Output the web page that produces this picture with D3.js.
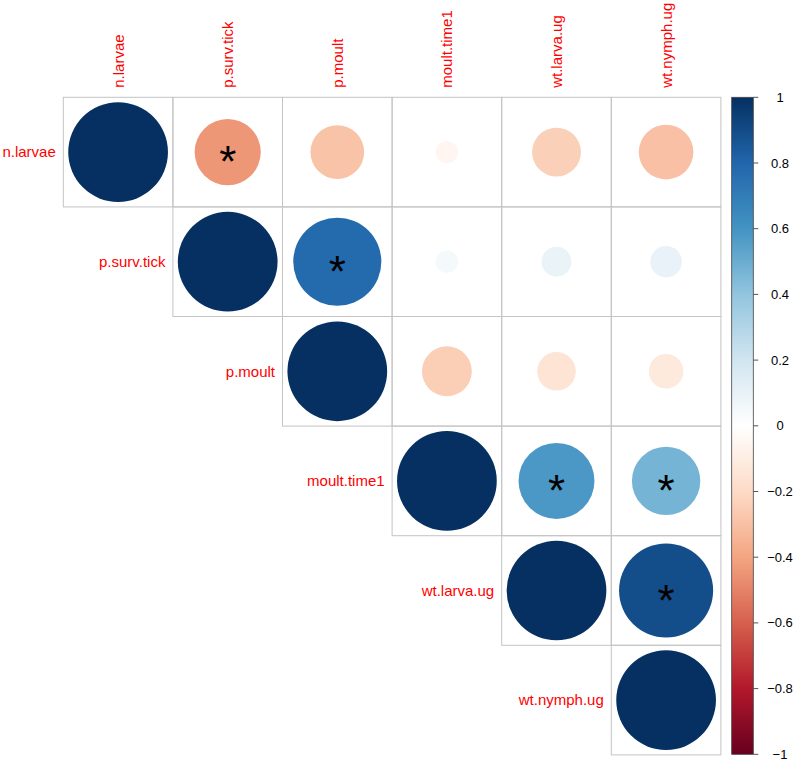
<!DOCTYPE html>
<html>
<head>
<meta charset="utf-8">
<script src="https://cdn.jsdelivr.net/npm/d3@7"></script>
<style>
  html, body { margin: 0; padding: 0; background: #fff; }
  svg { display: block; font-family: "Liberation Sans", Arial, Helvetica, sans-serif; }
</style>
</head>
<body>
<svg id="chart" width="794" height="766"></svg>
<script>
const variables = ["n.larvae", "p.surv.tick", "p.moult", "moult.time1", "wt.larva.ug", "wt.nymph.ug"];
// upper triangle correlations, row by row (row i, columns i..5)
const corrRows = [
  [1, -0.44, -0.29, -0.05, -0.24, -0.30],
  [1, 0.78, 0.05, 0.09, 0.10],
  [1, -0.25, -0.15, -0.12],
  [1, 0.58, 0.47],
  [1, 0.89],
  [1]
];
// significant pairs marked with "*": [row, col]
const significant = [[0, 1], [1, 2], [3, 4], [3, 5], [4, 5]];
const legendTicks = [1, 0.8, 0.6, 0.4, 0.2, 0, -0.2, -0.4, -0.6, -0.8, -1];
const paletteStops = ["#67001F", "#B2182B", "#D6604D", "#F4A582", "#FDDBC7", "#FFFFFF",
                      "#D1E5F0", "#92C5DE", "#4393C3", "#2166AC", "#053061"];

const svg = d3.select("#chart");
const n = variables.length;
const gLeft = 63.3, gTop = 97.3, cell = 109.6;

const x = d3.scaleBand().domain(variables).range([gLeft, gLeft + n * cell]);
const y = d3.scaleBand().domain(variables).range([gTop, gTop + n * cell]);
const color = d3.scaleLinear()
  .domain(d3.range(paletteStops.length).map(i => -1 + 2 * i / (paletteStops.length - 1)))
  .range(paletteStops);
const radius = d3.scaleSqrt().domain([0, 1]).range([0, cell * 0.455]);

const cells = [];
corrRows.forEach((row, i) => row.forEach((v, k) => {
  const j = i + k;
  cells.push({ r: variables[i], c: variables[j], i, j, v });
}));

// grid
svg.append("g").selectAll("rect").data(cells).join("rect")
  .attr("x", d => x(d.c)).attr("y", d => y(d.r))
  .attr("width", x.bandwidth()).attr("height", y.bandwidth())
  .attr("fill", "none").attr("stroke", "#C4C4C4").attr("stroke-width", 1);

// circles
svg.append("g").selectAll("circle").data(cells).join("circle")
  .attr("cx", d => x(d.c) + x.bandwidth() / 2)
  .attr("cy", d => y(d.r) + y.bandwidth() / 2)
  .attr("r", d => radius(Math.abs(d.v)))
  .attr("fill", d => color(d.v));

// significance stars
svg.append("g").selectAll("text").data(significant).join("text")
  .attr("x", d => x(variables[d[1]]) + x.bandwidth() / 2)
  .attr("y", d => y(variables[d[0]]) + y.bandwidth() / 2 + 25)
  .attr("text-anchor", "middle")
  .attr("font-size", 44)
  .attr("fill", "#000")
  .text("*");

// column labels
svg.append("g").selectAll("text").data(variables).join("text")
  .attr("transform", d => `translate(${x(d) + x.bandwidth() / 2 + 5.5},${gTop - 9.5}) rotate(-90)`)
  .attr("text-anchor", "start")
  .attr("font-size", 15)
  .attr("fill", "#FF0000")
  .text(d => d);

// row labels
svg.append("g").selectAll("text").data(variables).join("text")
  .attr("x", d => x(d) - 7.5)
  .attr("y", d => y(d) + y.bandwidth() / 2 + 5.3)
  .attr("text-anchor", "end")
  .attr("font-size", 15)
  .attr("fill", "#FF0000")
  .text(d => d);

// color legend
const lgX = 731.7, lgW = 21.6, lgTop = gTop, lgBot = 754.3;
const ly = d3.scaleLinear().domain([1, -1]).range([lgTop, lgBot]);
const defs = svg.append("defs");
const grad = defs.append("linearGradient").attr("id", "lg")
  .attr("x1", 0).attr("y1", 1).attr("x2", 0).attr("y2", 0);
paletteStops.forEach((c, i) => grad.append("stop")
  .attr("offset", i / (paletteStops.length - 1)).attr("stop-color", c));
svg.append("rect").attr("x", lgX).attr("y", lgTop).attr("width", lgW).attr("height", lgBot - lgTop)
  .attr("fill", "url(#lg)").attr("stroke", "#444").attr("stroke-width", 0.8);

const lg = svg.append("g");
lg.selectAll("line").data(legendTicks).join("line")
  .attr("x1", lgX + lgW).attr("x2", lgX + lgW + 5)
  .attr("y1", d => ly(d)).attr("y2", d => ly(d))
  .attr("stroke", "#555").attr("stroke-width", 1);
lg.selectAll("text").data(legendTicks).join("text")
  .attr("x", 780).attr("y", d => ly(d) + 4.5)
  .attr("text-anchor", "middle")
  .attr("font-size", 13)
  .attr("fill", "#000")
  .text(d => d3.format("")(d).replace("-", "\u2212"));
</script>
</body>
</html>
